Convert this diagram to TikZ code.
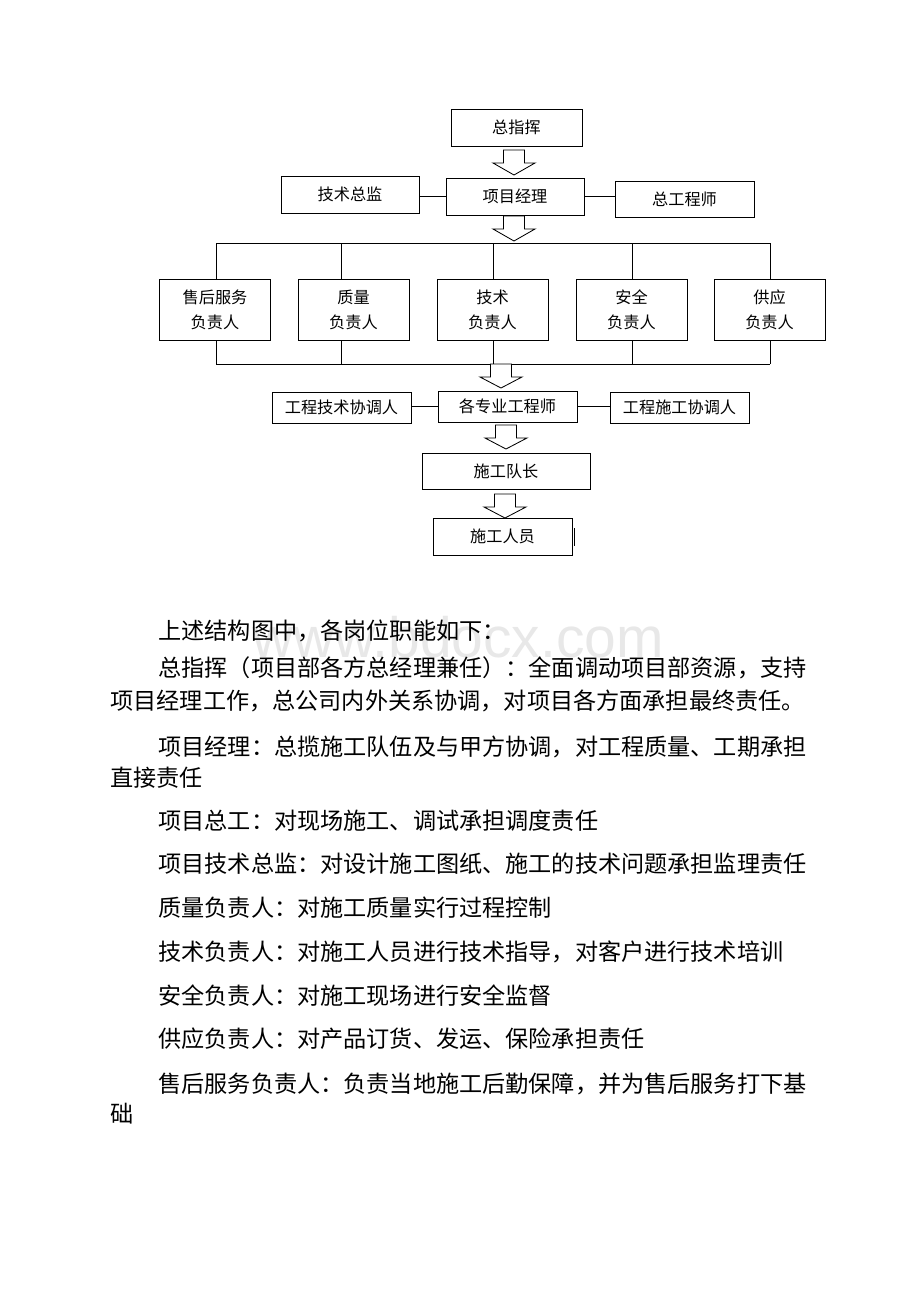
\documentclass[tikz,border=0pt]{standalone}
\usepackage{fontspec}
\setmainfont{Noto Sans CJK SC}
\newfontfamily\wmfont{Liberation Sans}
\usepackage{tikz}
\newcommand{\pxu}{0.025cm}

\begin{document}
\begin{tikzpicture}[x=0.025cm,y=-0.025cm,line width=0.6pt,
  box/.style={draw,inner sep=0,align=center,font=\fontsize{11.5pt}{17.8pt}\selectfont},
  para/.style={anchor=base west,inner sep=0,font=\fontsize{16.46pt}{20pt}\selectfont}]
\useasboundingbox (0,0) rectangle (920,1302);
\node[box,minimum width=131*\pxu,minimum height=37*\pxu] (zzh) at (516.5,127.5) {总指挥};
\node[box,minimum width=138*\pxu,minimum height=37*\pxu] (xmjl) at (515,196.5) {项目经理};
\node[box,minimum width=138*\pxu,minimum height=37*\pxu] (jszj) at (350,194.5) {技术总监};
\node[box,minimum width=139*\pxu,minimum height=36*\pxu] (zgcs) at (684.5,199) {总工程师};
\draw (xmjl.west) -- (xmjl.west -| jszj.east);
\draw (xmjl.east) -- (xmjl.east -| zgcs.west);
\foreach \n/\x/\d/\lbl in {1/215/216/售后服务, 2/353.5/341/质量, 3/492.5/493/技术,
                          4/631.5/632/安全, 5/769.5/770/供应} {
    \node[box,minimum width=111*\pxu,minimum height=61*\pxu] (fz\n) at (\x,309.5) {\lbl\\负责人};
    \coordinate (up\n) at (\d,243);
    \coordinate (dn\n) at (\d,364);
    \draw (up\n) -- (up\n |- fz\n.north);
    \draw (dn\n) -- (dn\n |- fz\n.south);
}
\draw (up1) -- (up5);
\draw (dn1) -- (dn5);
\node[box,minimum width=139*\pxu,minimum height=31*\pxu] (gzy) at (507.5,406.5) {各专业工程师};
\node[box,minimum width=139*\pxu,minimum height=31*\pxu] (gcjs) at (341.5,407.5) {工程技术协调人};
\node[box,minimum width=139*\pxu,minimum height=31*\pxu] (gcsg) at (679.5,407.5) {工程施工协调人};
\draw (gzy.west) -- (gzy.west -| gcjs.east);
\draw (gzy.east) -- (gzy.east -| gcsg.west);
\node[box,minimum width=168*\pxu,minimum height=36*\pxu] (sgdz) at (506,471) {施工队长};
\node[box,minimum width=139*\pxu,minimum height=37*\pxu] (sgry) at (502.5,536.5) {施工人员};
\draw (574,528) -- (574,546);
\foreach \x/\tp/\bt in {514/150/175, 514/216/241, 501/364/388, 506/425/449, 505/494/518}
    \draw[fill=white] (\x-10.5,\tp) -- (\x+10.5,\tp) -- (\x+10.5,\tp+13) -- (\x+21,\tp+13)
        -- (\x,\bt) -- (\x-21,\tp+13) -- (\x-10.5,\tp+13) -- cycle;
\node[anchor=base west,inner sep=0,text=black!9,font=\wmfont\fontsize{40.5pt}{40pt}\selectfont] (wm) at (252,657) {www.bdocx.com};
\foreach \n/\x/\y/\s in {1/158/639/上述结构图中，各岗位职能如下：,
    2/158/676/总指挥（项目部各方总经理兼任）：全面调动项目部资源，支持,
    3/110/709/项目经理工作，总公司内外关系协调，对项目各方面承担最终责任。,
    4/158/755/项目经理：总揽施工队伍及与甲方协调，对工程质量、工期承担,
    5/110/786/直接责任,
    6/158/829/项目总工：对现场施工、调试承担调度责任,
    7/158/872/项目技术总监：对设计施工图纸、施工的技术问题承担监理责任,
    8/158/916/质量负责人：对施工质量实行过程控制,
    9/158/960/技术负责人：对施工人员进行技术指导，对客户进行技术培训,
    10/158/1004/安全负责人：对施工现场进行安全监督,
    11/158/1047/供应负责人：对产品订货、发运、保险承担责任,
    12/158/1092/售后服务负责人：负责当地施工后勤保障，并为售后服务打下基,
    13/110/1122/础}
    \node[para] (p\n) at (\x,\y) {\s};
\end{tikzpicture}
\end{document}
